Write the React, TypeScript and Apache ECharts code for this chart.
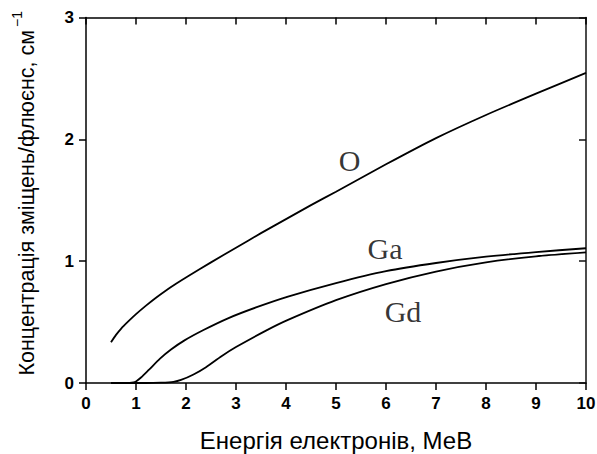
import React, { useEffect, useRef } from "react";
import * as echarts from "echarts";

const energyO = [0.5, 0.6, 0.7, 0.84, 1.0, 1.2, 1.4, 1.6, 1.8, 2.04, 2.5, 3.0, 3.5, 4.0, 4.5, 5.0, 6.0, 7.0, 8.0, 9.0, 10.0];
const valuesO = [0.334, 0.395, 0.445, 0.503, 0.565, 0.635, 0.70, 0.76, 0.815, 0.877, 0.99, 1.11, 1.23, 1.345, 1.46, 1.57, 1.795, 2.01, 2.2, 2.375, 2.545];

const energyGa = [0.5, 0.8, 0.95, 1.0, 1.1, 1.25, 1.48, 1.7, 1.97, 2.35, 2.84, 3.4, 4.04, 5.0, 6.0, 7.0, 8.0, 9.0, 10.0];
const valuesGa = [0, 0, 0.005, 0.013, 0.045, 0.105, 0.2, 0.275, 0.35, 0.435, 0.531, 0.62, 0.709, 0.82, 0.918, 0.985, 1.037, 1.075, 1.106];

const energyGd = [0.5, 1.2, 1.5, 1.75, 1.9, 2.15, 2.4, 2.71, 3.0, 3.6, 4.04, 5.0, 6.0, 7.0, 8.0, 9.0, 10.0];
const valuesGd = [0, 0, 0.003, 0.01, 0.025, 0.07, 0.13, 0.22, 0.295, 0.43, 0.518, 0.68, 0.812, 0.915, 0.99, 1.04, 1.073];

const curveLabels = ["O", "Ga", "Gd"];
const curveLabelX = [5.27, 5.98, 6.34];
const curveLabelY = [1.83, 1.108, 0.583];
const xTitle = "Енергія електронів, МеВ";
const yTitle = "Концентрація зміщень/флюєнс, см";
const ySup = "−1";

const zip = (xs: number[], ys: number[]) => xs.map((x, i) => [x, ys[i]]);

export default function App() {
  const ref = useRef<HTMLDivElement>(null);
  useEffect(() => {
    if (!ref.current) return;
    const chart = echarts.init(ref.current, null, { renderer: "svg" });
    const sans = "Liberation Sans";
    const serif = "Liberation Serif";
    const mkLabel = () => ({ show: true, color: "#000", fontFamily: sans, fontWeight: "bold", fontSize: 17, margin: 12 });
    const lineSeries = (name: string, xs: number[], ys: number[]) => ({
      name,
      type: "line",
      data: zip(xs, ys),
      showSymbol: false,
      smooth: 0.25,
      lineStyle: { color: "#000", width: 1.8 },
      xAxisIndex: 0,
      yAxisIndex: 0,
    });
    chart.setOption({
      animation: false,
      grid: { left: 86, right: 11, top: 17.5, bottom: 71, containLabel: false, outerBoundsMode: "none" },
      xAxis: [
        {
          type: "value", min: 0, max: 10, interval: 1,
          axisLine: { show: true, onZero: false, lineStyle: { color: "#000", width: 1.5 } },
          axisTick: { show: true, inside: false, length: 7, lineStyle: { color: "#000", width: 1.5 } },
          axisLabel: mkLabel(), splitLine: { show: false },
          name: xTitle, nameLocation: "middle", nameGap: 45,
          nameTextStyle: { fontFamily: sans, fontSize: 24, color: "#000" },
        },
        {
          type: "value", position: "top", min: 0, max: 10, interval: 1,
          axisLine: { show: true, onZero: false, lineStyle: { color: "black", width: 1.5 } },
          axisTick: { show: true, inside: true, length: 7, lineStyle: { color: "black", width: 1.5 } },
          axisLabel: { show: false }, splitLine: { show: false },
        },
      ],
      yAxis: [
        {
          type: "value", min: 0, max: 3, interval: 1,
          axisLine: { show: true, onZero: false, lineStyle: { color: "#000", width: 1.5 } },
          axisTick: { show: true, inside: false, length: 7, lineStyle: { color: "#000", width: 1.5 } },
          axisLabel: mkLabel(), splitLine: { show: false },
          name: `{a|${yTitle}}{b|${ySup}}`, nameLocation: "middle", nameGap: 48, nameRotate: 90,
          nameTextStyle: {
            fontFamily: sans, fontSize: 21.5, color: "#000", padding: [0, 0, 0, 14],
            rich: {
              a: { fontFamily: sans, fontSize: 21.5, color: "#000", lineHeight: 28, verticalAlign: "bottom" },
              b: { fontFamily: sans, fontSize: 14, color: "#000", lineHeight: 28, verticalAlign: "top", padding: [0, 0, 0, 3] },
            },
          },
        },
        {
          type: "value", position: "right", min: 0, max: 3, interval: 1,
          axisLine: { show: true, onZero: false, lineStyle: { color: "#111", width: 1.5 } },
          axisTick: { show: true, inside: true, length: 7, lineStyle: { color: "#111", width: 1.5 } },
          axisLabel: { show: false }, splitLine: { show: false },
        },
      ],
      series: [
        lineSeries("O", energyO, valuesO),
        lineSeries("Ga", energyGa, valuesGa),
        lineSeries("Gd", energyGd, valuesGd),
        {
          name: "labels",
          type: "scatter",
          symbolSize: 0,
          silent: true,
          clip: false,
          xAxisIndex: 0,
          yAxisIndex: 0,
          data: curveLabels.map((n, i) => ({ name: n, value: [curveLabelX[i], curveLabelY[i]] })),
          label: {
            show: true, position: "inside", formatter: "{b}",
            fontFamily: serif, fontSize: 30, color: "#000",
            textBorderWidth: 0, textBorderColor: "transparent",
          },
          z: 6,
        },
      ],
    });
    return () => chart.dispose();
  }, []);
  return <div ref={ref} style={{ width: 597, height: 454, position: "absolute", left: 0, top: 0 }} />;
}
